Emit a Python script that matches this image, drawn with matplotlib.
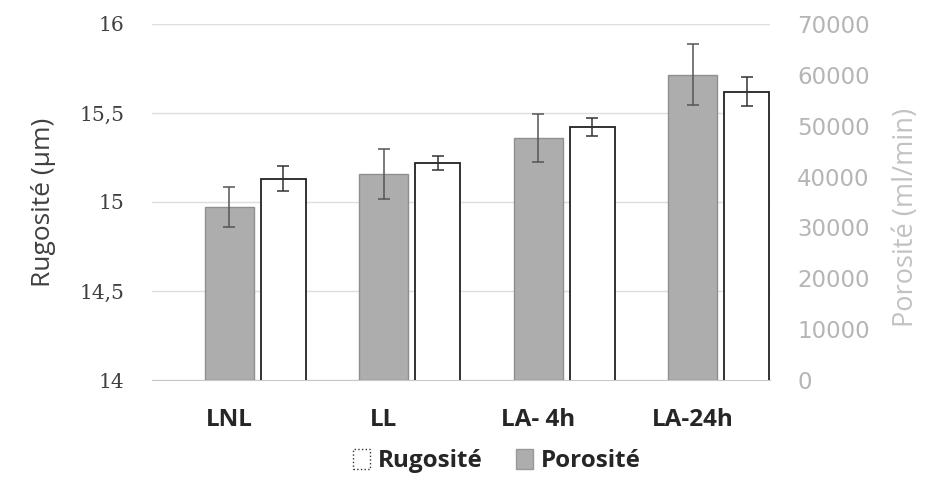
import numpy as np
import matplotlib.pyplot as plt
from matplotlib.patches import Patch

# Données
categories = ['LNL', 'LL', 'LA- 4h', 'LA-24h']
rugosite = [15.13, 15.22, 15.42, 15.62]          # µm (axe gauche)
rugosite_err = [0.07, 0.04, 0.05, 0.08]
porosite = [34000, 40500, 47500, 60000]          # ml/min (axe droit)
porosite_err = [3900, 5000, 4700, 6000]
left_ticks = [14, 14.5, 15, 15.5, 16]
left_ticklabels = ['14', '14,5', '15', '15,5', '16']
right_ticks = [0, 10000, 20000, 30000, 40000, 50000, 60000, 70000]

x = np.arange(len(categories))

fig = plt.figure(figsize=(9.5, 4.88), dpi=100)
ax = fig.add_axes([0.16, 0.2213, 0.6505, 0.7297])
ax2 = ax.twinx()

# Rugosité : barres blanches (axe gauche)
ax.bar(x + 0.35, rugosite, width=0.29, color='white', edgecolor='#222222',
       linewidth=1.3, zorder=3)
ax.errorbar(x + 0.35, rugosite, yerr=rugosite_err, fmt='none', ecolor='#333333',
            elinewidth=1.1, capsize=4, capthick=1.1, zorder=4)

# Porosité : barres grises (axe droit)
ax2.bar(x, porosite, width=0.32, color='#adadad', edgecolor='#8f8f8f',
        linewidth=1.0, zorder=3)
ax2.errorbar(x, porosite, yerr=porosite_err, fmt='none', ecolor='#555555',
             elinewidth=1.1, capsize=4, capthick=1.1, zorder=4)

ax.set_xlim(-0.5, 3.5)
ax.set_ylim(14, 16)
ax2.set_ylim(0, 70000)

ax.set_yticks(left_ticks)
ax.set_yticklabels(left_ticklabels, family='DejaVu Serif', fontsize=14.5, color='#404040')
ax2.set_yticks(right_ticks)
ax2.set_yticklabels([str(t) for t in right_ticks], family='DejaVu Sans', fontsize=16.5,
                    color='#b5b5b5')

ax.set_xticks(x)
ax.set_xticklabels(categories, family='Open Sans', fontweight='bold', fontsize=17.5,
                   color='#262626')

ax.tick_params(axis='y', length=0, pad=20)
ax2.tick_params(axis='y', length=0, pad=19.5)
ax.tick_params(axis='x', length=0, pad=20)

ax.grid(axis='y', color='#dedede', linewidth=1.0, zorder=0)
ax.set_axisbelow(True)
for a in (ax, ax2):
    for s in ('top', 'left', 'right'):
        a.spines[s].set_visible(False)
    a.spines['bottom'].set_color('#c8c8c8')
ax2.spines['bottom'].set_visible(False)

ax.set_ylabel('Rugosité (µm)', family='Open Sans', fontsize=19, color='#404040')
ax.yaxis.set_label_coords(-0.155, 0.5)
ax2.set_ylabel('Porosité (ml/min)', family='Open Sans', fontsize=19.5, color='#c2c2c2')
ax2.yaxis.set_label_coords(1.198, 0.456)

handles = [Patch(facecolor='white', edgecolor='#333333', linestyle=':', linewidth=1.0,
                 label='Rugosité'),
           Patch(facecolor='#adadad', edgecolor='#999999', label='Porosité')]
fig.legend(handles=handles, loc='center', bbox_to_anchor=(0.523, 0.055), ncol=2,
           frameon=False, handlelength=0.7, handleheight=0.9, handletextpad=0.3,
           columnspacing=1.4, prop={'family': 'Open Sans', 'weight': 'bold', 'size': 17.5},
           labelcolor='#262626')

fig.savefig('out.png', dpi=100)
